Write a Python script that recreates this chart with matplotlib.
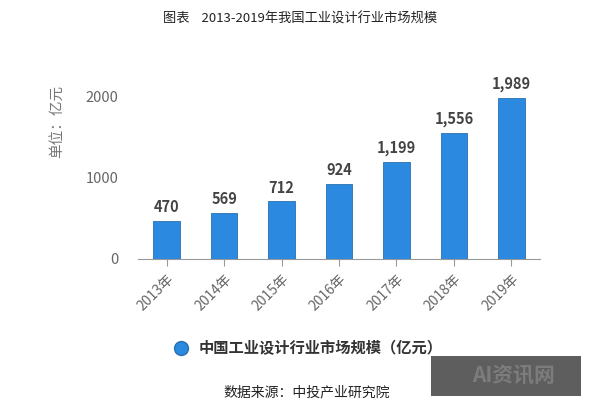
import matplotlib
matplotlib.use("Agg")
import matplotlib.pyplot as plt
from matplotlib.patches import Rectangle
from matplotlib.lines import Line2D

plt.rcParams['font.family'] = ['Noto Sans CJK SC', 'DejaVu Sans']

years = ["2013年", "2014年", "2015年", "2016年", "2017年", "2018年", "2019年"]
values = [470, 569, 712, 924, 1199, 1556, 1989]
yticks = [0, 1000, 2000]
title = "图表    2013-2019年我国工业设计行业市场规模"
series_name = "中国工业设计行业市场规模（亿元）"
source = "数据来源：中投产业研究院"

fig = plt.figure(figsize=(6.01, 4.17), dpi=100)
ax = fig.add_axes([0.2296, 0.3789, 0.669, 0.486])

bar_color = "#2b8ae0"
x = list(range(len(years)))
ax.bar(x, values, width=0.46, color=bar_color, edgecolor="#2a6fb0", linewidth=0.6, zorder=3)
for xi, v in zip(x, values):
    ax.text(xi, v + 70, f"{v:,}", ha="center", va="bottom", fontsize=10.5,
            fontweight="bold", color="#444444")

ax.set_xlim(-0.5, 6.5)
ax.set_ylim(0, 2500)
ax.set_yticks(yticks)
ax.set_yticklabels([str(t) for t in yticks], fontsize=10.5, color="#666666")
ax.set_xticks(x)
ax.set_xticklabels(years, rotation=45, ha="right", rotation_mode="anchor",
                   fontsize=10, color="#666666")
ax.tick_params(axis="y", length=0, pad=14)
ax.tick_params(axis="x", length=5, color="#999999", pad=4)
for s in ["top", "right", "left"]:
    ax.spines[s].set_visible(False)
ax.spines["bottom"].set_color("#999999")
ax.set_ylabel("单位：亿元", fontsize=10.5, color="#777777")
ax.yaxis.set_label_coords(-0.185, 0.68)

fig.text(0.5, 0.955, title, ha="center", va="center", fontsize=9.5, color="#222222")

# legend
fig.add_artist(Line2D([181 / 601], [1 - 348 / 417], marker="o", markersize=10,
                      color=bar_color, markeredgecolor="#2a6fb0",
                      transform=fig.transFigure))
fig.text(199 / 601, 1 - 348 / 417, series_name, ha="left", va="center",
         fontsize=11, color="#333333", fontweight="bold")

fig.text(307 / 601, 1 - 392 / 417, source, ha="center", va="center",
         fontsize=10, color="#222222")

# watermark
wm = Rectangle((431 / 601, 1 - 396 / 417), 150 / 601, 40 / 417,
               transform=fig.transFigure, facecolor="#5e5e5e", edgecolor="none", zorder=5)
fig.add_artist(wm)
fig.text(472 / 601, 1 - 376 / 417, "AI资讯网", ha="left", va="center",
         fontsize=15, color="#7c7c7c", fontweight="bold", style="italic", zorder=6)

fig.savefig("out.png", dpi=100)
